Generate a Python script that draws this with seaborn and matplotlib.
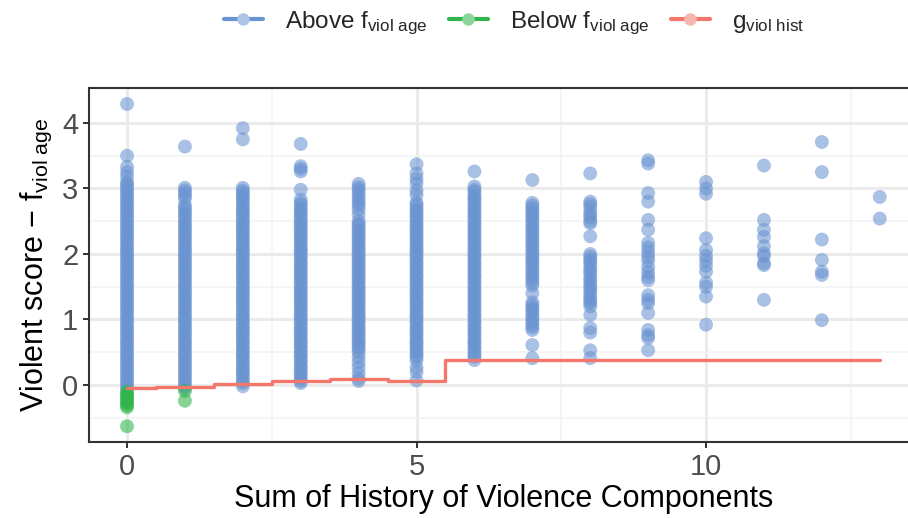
import numpy as np
import pandas as pd
import matplotlib
matplotlib.use("Agg")
import matplotlib.pyplot as plt
import seaborn as sns
from matplotlib.lines import Line2D

# Residual scores (violent score minus f_viol_age) by history-of-violence sum
above_0 = [4.29, 3.50, 3.33, 3.25, 3.18,
           3.10, 3.06, 3.03, 2.98, 2.95, 2.90, 2.86, 2.83, 2.78, 2.75,
           2.70, 2.66, 2.63, 2.58, 2.55, 2.50, 2.46, 2.43, 2.38, 2.35,
           2.30, 2.26, 2.23, 2.18, 2.15, 2.10, 2.06, 2.03, 1.98, 1.95,
           1.90, 1.86, 1.83, 1.78, 1.75, 1.70, 1.66, 1.63, 1.58, 1.55,
           1.50, 1.46, 1.43, 1.38, 1.35, 1.30, 1.26, 1.23, 1.18, 1.15,
           1.10, 1.06, 1.03, 0.98, 0.95, 0.90, 0.86, 0.83, 0.78, 0.75,
           0.70, 0.66, 0.63, 0.58, 0.55, 0.50, 0.46, 0.43, 0.38, 0.35,
           0.30, 0.26, 0.23, 0.18, 0.15, 0.10, 0.06, 0.03, -0.02, -0.05]
above_1 = [3.64, 3.01, 2.97, 2.93, 2.89, 2.85, 2.75, 2.71, 2.67, 2.63, 2.59,
           2.55, 2.50, 2.46, 2.43, 2.38, 2.35,
           2.30, 2.26, 2.23, 2.18, 2.15, 2.10, 2.06, 2.03, 1.98, 1.95,
           1.90, 1.86, 1.83, 1.78, 1.75, 1.70, 1.66, 1.63, 1.58, 1.55,
           1.50, 1.46, 1.43, 1.38, 1.35, 1.30, 1.26, 1.23, 1.18, 1.15,
           1.10, 1.06, 1.03, 0.98, 0.95, 0.90, 0.86, 0.83, 0.78, 0.75,
           0.70, 0.66, 0.63, 0.58, 0.55, 0.50, 0.46, 0.43, 0.38, 0.35,
           0.30, 0.26, 0.23, 0.18, 0.15, 0.10, 0.06, 0.03, -0.02, -0.05]
above_2 = [3.92, 3.75, 3.01, 2.97, 2.93, 2.89,
           2.86, 2.83, 2.78, 2.75,
           2.70, 2.66, 2.63, 2.58, 2.55, 2.50, 2.46, 2.43, 2.38, 2.35,
           2.30, 2.26, 2.23, 2.18, 2.15, 2.10, 2.06, 2.03, 1.98, 1.95,
           1.90, 1.86, 1.83, 1.78, 1.75, 1.70, 1.66, 1.63, 1.58, 1.55,
           1.50, 1.46, 1.43, 1.38, 1.35, 1.30, 1.26, 1.23, 1.18, 1.15,
           1.10, 1.06, 1.03, 0.98, 0.95, 0.90, 0.86, 0.83, 0.78, 0.75,
           0.70, 0.66, 0.63, 0.58, 0.55, 0.50, 0.46, 0.43, 0.38, 0.35,
           0.30, 0.26, 0.23, 0.18, 0.15, 0.10, 0.06, 0.03, -0.02]
above_3 = [3.68, 3.34, 3.30, 3.26, 2.98,
           2.83, 2.78, 2.75,
           2.70, 2.66, 2.63, 2.58, 2.55, 2.50, 2.46, 2.43, 2.38, 2.35,
           2.30, 2.26, 2.23, 2.18, 2.15, 2.10, 2.06, 2.03, 1.98, 1.95,
           1.90, 1.86, 1.83, 1.78, 1.75, 1.70, 1.66, 1.63, 1.58, 1.55,
           1.50, 1.46, 1.43, 1.38, 1.35, 1.30, 1.26, 1.23, 1.18, 1.15,
           1.10, 1.06, 1.03, 0.98, 0.95, 0.90, 0.86, 0.83, 0.78, 0.75,
           0.70, 0.66, 0.63, 0.58, 0.55, 0.50, 0.46, 0.43, 0.38, 0.35,
           0.30, 0.26, 0.23, 0.18, 0.15, 0.10, 0.06, 0.03]
above_4 = [3.07, 3.02, 2.98, 2.93, 2.88, 2.83, 2.78, 2.74, 2.68, 2.60,
           2.50, 2.46, 2.43, 2.38, 2.35,
           2.30, 2.26, 2.23, 2.18, 2.15, 2.10, 2.06, 2.03, 1.98, 1.95,
           1.90, 1.86, 1.83, 1.78, 1.75, 1.70, 1.66, 1.63, 1.58, 1.55,
           1.50, 1.46, 1.43, 1.38, 1.35, 1.30, 1.26, 1.23, 1.18, 1.15,
           1.10, 1.06, 1.03, 0.98, 0.95, 0.90, 0.86, 0.83, 0.78, 0.75,
           0.70, 0.66, 0.63, 0.58, 0.55, 0.50, 0.43, 0.35, 0.27, 0.18, 0.10, 0.06]
above_5 = [3.37, 3.23, 3.15, 3.08, 2.97, 2.90,
           2.78, 2.75,
           2.70, 2.66, 2.63, 2.58, 2.55, 2.50, 2.46, 2.43, 2.38, 2.35,
           2.30, 2.26, 2.23, 2.18, 2.15, 2.10, 2.06, 2.03, 1.98, 1.95,
           1.90, 1.86, 1.83, 1.78, 1.75, 1.70, 1.66, 1.63, 1.58, 1.55,
           1.50, 1.46, 1.43, 1.38, 1.35, 1.30, 1.26, 1.23, 1.18, 1.15,
           1.10, 1.06, 1.03, 0.98, 0.95, 0.90, 0.86, 0.83, 0.78, 0.75,
           0.70, 0.66, 0.63, 0.58, 0.55, 0.50, 0.46, 0.43, 0.38,
           0.27, 0.20, 0.07]
above_6 = [3.26, 3.03, 2.98,
           2.95, 2.90, 2.86, 2.83, 2.78, 2.75,
           2.70, 2.66, 2.63, 2.58, 2.55, 2.50, 2.46, 2.43, 2.38, 2.35,
           2.30, 2.26, 2.23, 2.18, 2.15, 2.10, 2.06, 2.03, 1.98, 1.95,
           1.90, 1.86, 1.83, 1.78, 1.75, 1.70, 1.66, 1.63, 1.58, 1.55,
           1.50, 1.46, 1.43, 1.38, 1.35, 1.30, 1.26, 1.23, 1.18, 1.15,
           1.10, 1.06, 1.03, 0.98, 0.95, 0.90, 0.86, 0.83, 0.78, 0.75,
           0.70, 0.66, 0.63, 0.58, 0.55, 0.50, 0.46, 0.43, 0.38]
above_7 = [3.13, 2.78, 2.74, 2.70, 2.66, 2.62, 2.58, 2.54, 2.50, 2.45, 2.41, 2.37, 2.33,
           2.28, 2.24, 2.20, 2.16, 2.12, 2.07, 2.03, 1.98, 1.94, 1.90, 1.86, 1.82, 1.77,
           1.73, 1.69, 1.65, 1.61, 1.56, 1.52, 1.40, 1.26, 1.22, 1.18, 1.14, 1.10, 1.05,
           1.01, 0.97, 0.92, 0.88, 0.84, 0.61, 0.41]
above_8 = [3.23, 2.80, 2.76, 2.72, 2.65, 2.60, 2.56, 2.50, 2.47, 2.27,
           2.00, 1.96, 1.92, 1.88, 1.84, 1.78, 1.74, 1.70, 1.64, 1.60, 1.55, 1.50, 1.47,
           1.42, 1.37, 1.32, 1.28, 1.25, 1.20, 1.07, 0.87, 0.80, 0.53, 0.41]
above_9 = [3.43, 3.38, 2.93, 2.80, 2.52, 2.37, 2.17, 2.10, 2.03, 1.96, 1.90, 1.80, 1.72, 1.65,
           1.60, 1.37, 1.30, 1.25, 1.10, 0.84, 0.76, 0.72, 0.53]
above_10 = [3.10, 3.00, 2.92, 2.24, 2.06, 1.97, 1.90, 1.82, 1.73, 1.56, 1.50, 1.35, 0.92]
above_11 = [3.35, 2.52, 2.37, 2.26, 2.12, 2.01, 1.97, 1.86, 1.83, 1.30]
above_12 = [3.71, 3.25, 2.22, 1.91, 1.73, 1.68, 0.99]
above_13 = [2.87, 2.54]

below_0 = [-0.10, -0.13, -0.16, -0.19, -0.22, -0.25, -0.28, -0.31, -0.34, -0.63]
below_1 = [-0.09, -0.24]

# Step function g_viol_hist evaluated at each history sum
hist_levels = list(range(14))
g_viol_hist = [-0.05, -0.035, 0.01, 0.065, 0.095, 0.06, 0.38, 0.38, 0.38, 0.38, 0.38, 0.38, 0.38, 0.38]

group_labels = [r"Above f$_{\mathregular{viol\ age}}$",
                r"Below f$_{\mathregular{viol\ age}}$",
                r"g$_{\mathregular{viol\ hist}}$"]

c_above = "#6a94d1"
c_below = "#2fb54a"
c_line = "#f3776b"

above_cols = [above_0, above_1, above_2, above_3, above_4, above_5, above_6,
              above_7, above_8, above_9, above_10, above_11, above_12, above_13]
below_cols = {0: below_0, 1: below_1}

rows = []
for h, vals in enumerate(above_cols):
    rows += [(h, v, "above") for v in vals]
for h, vals in below_cols.items():
    rows += [(h, v, "below") for v in vals]
pts = pd.DataFrame(rows, columns=["hist", "resid", "group"])
step = pd.DataFrame({"hist": hist_levels, "g": g_viol_hist})

sns.set_theme(style="white")
plt.rcParams["font.family"] = ["Liberation Sans", "DejaVu Sans"]
plt.rcParams["mathtext.fontset"] = "custom"
plt.rcParams["mathtext.rm"] = "Liberation Sans"
plt.rcParams["mathtext.it"] = "Liberation Sans:italic"
plt.rcParams["mathtext.bf"] = "Liberation Sans:bold"

W, H = 908, 518
fig = plt.figure(figsize=(W / 100, H / 100), dpi=100)
ax = fig.add_axes([89.4 / W, 76.3 / H, 828 / W, 353.8 / H])

sns.scatterplot(data=pts[pts.group == "above"], x="hist", y="resid", color=c_above,
                s=100, alpha=0.58, edgecolor="none", linewidth=0, legend=False, ax=ax, zorder=3)
sns.scatterplot(data=pts[pts.group == "below"], x="hist", y="resid", color=c_below,
                s=100, alpha=0.58, edgecolor="none", linewidth=0, legend=False, ax=ax, zorder=3)
sns.lineplot(data=step, x="hist", y="g", color=c_line, lw=2.4, drawstyle="steps-mid",
             estimator=None, ax=ax, zorder=4)

ax.set_xlim(-0.65, 13.65)
ax.set_ylim(-0.8655, 4.5355)
ax.set_xticks([0, 5, 10])
ax.set_yticks([0, 1, 2, 3, 4])
ax.set_xticks([2.5, 7.5, 12.5], minor=True)
ax.set_yticks([-0.5, 0.5, 1.5, 2.5, 3.5], minor=True)
ax.set_axisbelow(True)
ax.grid(which="major", color="#ebebeb", lw=2.2)
ax.grid(which="minor", color="#f2f2f2", lw=1.1)

for sp in ax.spines.values():
    sp.set_color("#333333")
    sp.set_linewidth(1.5)

ax.tick_params(which="major", axis="both", direction="out", length=4, width=1.4,
               color="#333333", labelcolor="#4d4d4d", labelsize=21, pad=4,
               bottom=True, left=True)
ax.tick_params(which="minor", length=0)

ax.set_xlabel("Sum of History of Violence Components", fontsize=22, color="black", labelpad=2)
ax.set_ylabel(r"Violent score − f$_{\mathregular{viol\ age}}$", fontsize=22, color="black",
              labelpad=6)

def light(c, f=0.45):
    r, g, b = matplotlib.colors.to_rgb(c)
    return (r + (1 - r) * f, g + (1 - g) * f, b + (1 - b) * f)

handles = [Line2D([0], [0], color=c, lw=3, marker="o", markersize=9,
                  markerfacecolor=light(c), markeredgecolor="none")
           for c in (c_above, c_below, c_line)]
fig.legend(handles, group_labels, loc="center", bbox_to_anchor=(514 / W, 1 - 23 / H),
           ncol=3, frameon=False, fontsize=17.5, handlelength=1.6, handletextpad=0.9,
           columnspacing=0.9)

fig.savefig("out.png", dpi=100)
